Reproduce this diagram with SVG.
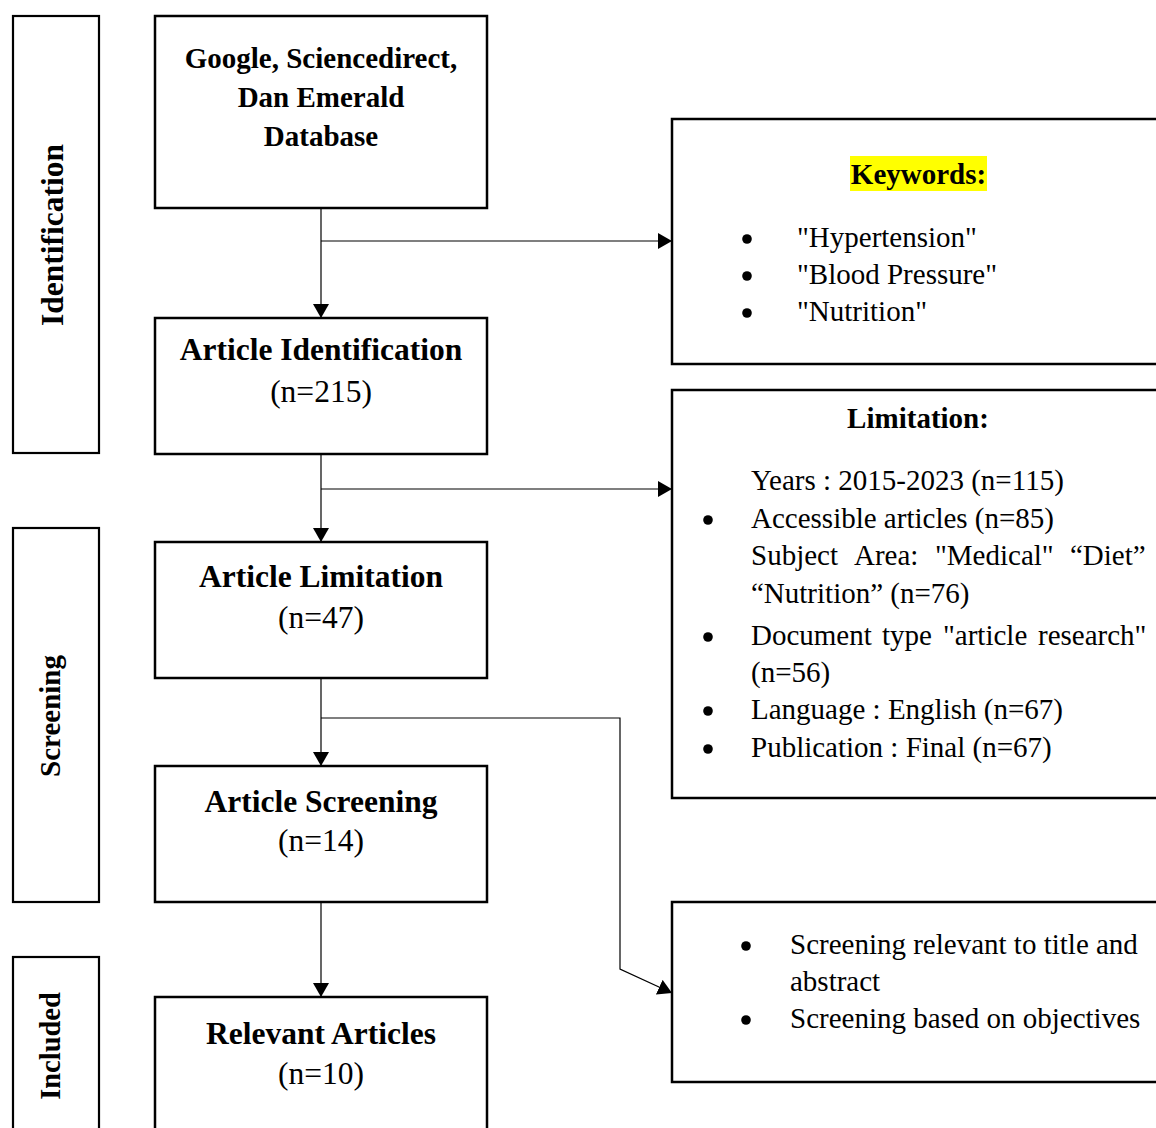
<svg xmlns="http://www.w3.org/2000/svg" width="1156" height="1128" viewBox="0 0 1156 1128">
<defs>
<style>
.box{fill:#fff;stroke:#000;stroke-width:2.5}
.lbl{fill:#fff;stroke:#000;stroke-width:2.2}
.t{font-family:"Liberation Serif","Times New Roman",serif;fill:#000}
.bd{font-weight:bold}
.m{font-size:31.5px}
.s{font-size:29px}
.c{text-anchor:middle}
.ln{fill:none;stroke:#000;stroke-width:1.2}
.dot{fill:#000}
</style>
<marker id="ah" viewBox="0 0 14 16" refX="14" refY="8" markerWidth="14" markerHeight="16" markerUnits="userSpaceOnUse" orient="auto">
<path d="M0,0 L14,8 L0,16 z" fill="#000"/>
</marker>
</defs>
<rect width="1156" height="1128" fill="#fff"/>

<g id="phase-identification">
<rect class="lbl" x="13" y="16" width="86" height="437"/>
<text class="t bd m c" transform="translate(63,235) rotate(-90)">Identification</text>
</g>
<g id="phase-screening">
<rect class="lbl" x="13" y="528" width="86" height="374"/>
<text class="t bd c" style="font-size:29px" transform="translate(60,716) rotate(-90)">Screening</text>
</g>
<g id="phase-included">
<rect class="lbl" x="13" y="957" width="86" height="200"/>
<text class="t bd c" style="font-size:28.5px" transform="translate(60,1046) rotate(-90)">Included</text>
</g>

<g id="connectors">
<line class="ln" x1="321" y1="208" x2="321" y2="318" marker-end="url(#ah)"/>
<line class="ln" x1="321" y1="241" x2="672" y2="241" marker-end="url(#ah)"/>
<line class="ln" x1="321" y1="454" x2="321" y2="542" marker-end="url(#ah)"/>
<line class="ln" x1="321" y1="489" x2="672" y2="489" marker-end="url(#ah)"/>
<line class="ln" x1="321" y1="678" x2="321" y2="766" marker-end="url(#ah)"/>
<polyline class="ln" points="321,718 620,718 620,969 672,993" marker-end="url(#ah)"/>
<line class="ln" x1="321" y1="902" x2="321" y2="997" marker-end="url(#ah)"/>
</g>

<g id="database">
<rect class="box" x="155" y="16" width="332" height="192"/>
<text class="t bd c" style="font-size:29px" x="321" y="68">Google, Sciencedirect,</text>
<text class="t bd c" style="font-size:29px" x="321" y="107">Dan Emerald</text>
<text class="t bd c" style="font-size:29px" x="321" y="146">Database</text>
</g>

<g id="article-identification">
<rect class="box" x="155" y="318" width="332" height="136"/>
<text class="t bd m c" x="321" y="360">Article Identification</text>
<text class="t m c" x="321" y="402">(n=215)</text>
</g>

<g id="article-limitation">
<rect class="box" x="155" y="542" width="332" height="136"/>
<text class="t bd m c" x="321" y="587">Article Limitation</text>
<text class="t m c" x="321" y="628">(n=47)</text>
</g>

<g id="article-screening">
<rect class="box" x="155" y="766" width="332" height="136"/>
<text class="t bd m c" x="321" y="812">Article Screening</text>
<text class="t m c" x="321" y="851">(n=14)</text>
</g>

<g id="relevant-articles">
<rect class="box" x="155" y="997" width="332" height="160"/>
<text class="t bd m c" x="321" y="1044">Relevant Articles</text>
<text class="t m c" x="321" y="1084">(n=10)</text>
</g>

<g id="keywords">
<rect class="box" x="672" y="119" width="500" height="245"/>
<rect x="850" y="156" width="137" height="35" fill="#ffff00"/>
<text class="t bd s c" x="918.5" y="184">Keywords:</text>
<circle class="dot" cx="747" cy="239" r="4.8"/>
<text class="t s" x="797" y="247">"Hypertension"</text>
<circle class="dot" cx="747" cy="276" r="4.8"/>
<text class="t s" x="797" y="284">"Blood Pressure"</text>
<circle class="dot" cx="747" cy="313" r="4.8"/>
<text class="t s" x="797" y="321">"Nutrition"</text>
</g>

<g id="limitation">
<rect class="box" x="672" y="390" width="500" height="408"/>
<text class="t bd s c" x="918" y="428">Limitation:</text>
<text class="t s" x="751" y="490">Years : 2015-2023 (n=115)</text>
<circle class="dot" cx="708" cy="520" r="4.8"/>
<text class="t s" x="751" y="528">Accessible articles (n=85)</text>
<text class="t s" y="565"><tspan x="751">Subject</tspan><tspan x="854">Area:</tspan><tspan x="935">"Medical"</tspan><tspan x="1070">“Diet”</tspan></text>
<text class="t s" x="751" y="603">“Nutrition” (n=76)</text>
<circle class="dot" cx="708" cy="637" r="4.8"/>
<text class="t s" y="645"><tspan x="751">Document</tspan><tspan x="882">type</tspan><tspan x="943">"article</tspan><tspan x="1038">research"</tspan></text>
<text class="t s" x="751" y="682">(n=56)</text>
<circle class="dot" cx="708" cy="711" r="4.8"/>
<text class="t s" x="751" y="719">Language : English (n=67)</text>
<circle class="dot" cx="708" cy="749" r="4.8"/>
<text class="t s" x="751" y="757">Publication : Final (n=67)</text>
</g>

<g id="screening-criteria">
<rect class="box" x="672" y="902" width="500" height="180"/>
<circle class="dot" cx="746" cy="946" r="4.8"/>
<text class="t s" x="790" y="954">Screening relevant to title and</text>
<text class="t s" x="790" y="991">abstract</text>
<circle class="dot" cx="746" cy="1020" r="4.8"/>
<text class="t s" x="790" y="1028">Screening based on objectives</text>
</g>
</svg>
